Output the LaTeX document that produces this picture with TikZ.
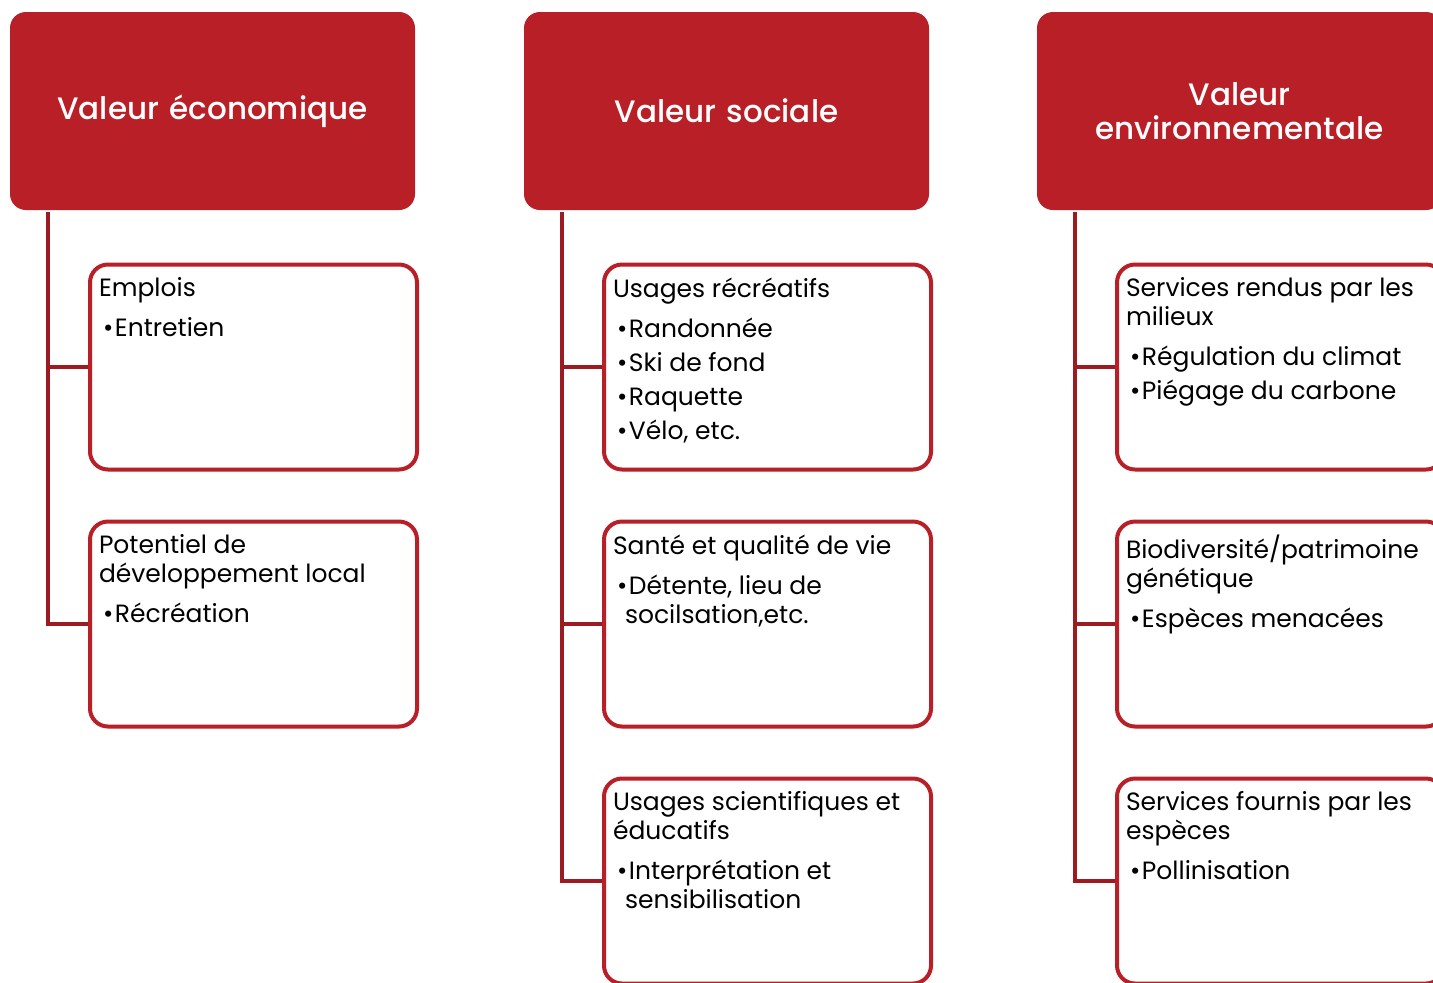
\documentclass[tikz,border=0pt]{standalone}
\usepackage{fontspec}
\setmainfont{Poppins}[BoldFont={Poppins Medium}]
\definecolor{hdrred}{HTML}{B81F27}
\definecolor{linkred}{HTML}{9B1B21}
\newcommand{\boxtxt}[2]{\parbox[t][89.5pt][t]{154.5pt}{\fontsize{12.5pt}{14.5pt}\selectfont\raggedright #1\par\vspace{3pt}#2}}
\newcommand{\bul}[1]{\par\vspace{2.6pt}\hangindent=6pt\hangafter=1\hspace*{2pt}\makebox[6pt][l]{\textbullet}#1}

\begin{document}
\begin{tikzpicture}[x=0.5pt, y=-0.5pt,
  hdr_node/.style={rectangle, rounded corners=8pt, fill=hdrred, text=white, minimum width=202.5pt, minimum height=99pt, text width=195pt, align=center, font=\fontsize{15.5pt}{17pt}\selectfont\bfseries},
  sub_node/.style={rectangle, rounded corners=9pt, draw=hdrred, line width=2pt, fill=white, inner xsep=4.5pt, inner ysep=6.5pt, anchor=center},
  conn/.style={draw=linkred, line width=2pt}]
  \useasboundingbox (0,0) rectangle (1433,982);
				% headers
				\node[hdr_node](hdr_eco) at (212.5,111){Valeur économique};
				\node[hdr_node](hdr_soc) at (726.5,111){Valeur sociale};
				\node[hdr_node](hdr_env) at (1239.5,111){Valeur\\ environnementale};
				% economic column
				\node[sub_node](emp) at (253.5,367){\boxtxt{Emplois}{\bul{Entretien}}};
				\node[sub_node](pot) at (253.5,624){\boxtxt{Potentiel de\\ développement local}{\bul{Récréation}}};
				% social column
				\node[sub_node](rec) at (767.5,367){\boxtxt{Usages récréatifs}{\bul{Randonnée}\bul{Ski de fond}\bul{Raquette}\bul{Vélo, etc.}}};
				\node[sub_node](san) at (767.5,624){\boxtxt{Santé et qualité de vie}{\bul{Détente, lieu de\break socilsation,etc.}}};
				\node[sub_node](sci) at (767.5,881){\boxtxt{Usages scientifiques et\\ éducatifs}{\bul{Interprétation et\break sensibilisation}}};
				% environmental column
				\node[sub_node](mil) at (1280.5,367){\boxtxt{Services rendus par les\\ milieux}{\bul{Régulation du climat}\bul{Piégage du carbone}}};
				\node[sub_node](bio) at (1280.5,624){\boxtxt{Biodiversité/patrimoine\\ génétique}{\bul{Espèces menacées}}};
				\node[sub_node](esp) at (1280.5,881){\boxtxt{Services fournis par les\\ espèces}{\bul{Pollinisation}}};
				% connectors
				\draw[conn]([xshift=19pt, yshift=-1pt]hdr_eco.south west) |- (emp.west);
				\draw[conn]([xshift=19pt, yshift=-1pt]hdr_eco.south west) |- (pot.west);
				\draw[conn]([xshift=19pt, yshift=-1pt]hdr_soc.south west) |- (rec.west);
				\draw[conn]([xshift=19pt, yshift=-1pt]hdr_soc.south west) |- (san.west);
				\draw[conn]([xshift=19pt, yshift=-1pt]hdr_soc.south west) |- (sci.west);
				\draw[conn]([xshift=19pt, yshift=-1pt]hdr_env.south west) |- (mil.west);
				\draw[conn]([xshift=19pt, yshift=-1pt]hdr_env.south west) |- (bio.west);
				\draw[conn]([xshift=19pt, yshift=-1pt]hdr_env.south west) |- (esp.west);
			\end{tikzpicture}
\end{document}
